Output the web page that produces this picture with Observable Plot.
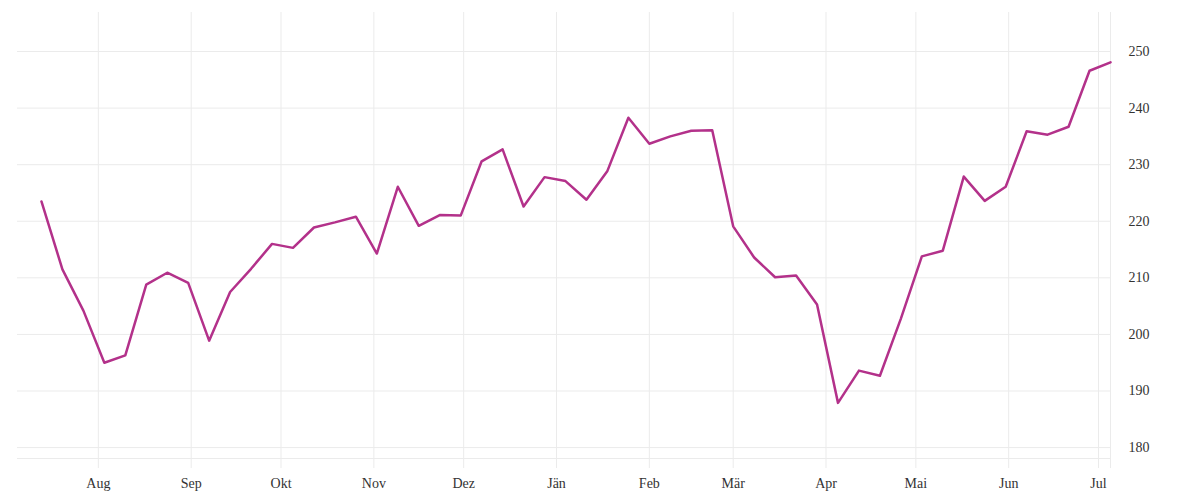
<!DOCTYPE html>
<html>
<head>
<meta charset="utf-8">
<script src="https://cdn.jsdelivr.net/npm/d3@7"></script>
<script src="https://cdn.jsdelivr.net/npm/@observablehq/plot@0.6"></script>
<style>
  html, body { margin: 0; padding: 0; background: #fff; }
</style>
</head>
<body>
<div id="chart"></div>
<script>
const dates = [
  "2022-07-13","2022-07-20","2022-07-27","2022-08-03","2022-08-10","2022-08-17","2022-08-24","2022-08-31",
  "2022-09-07","2022-09-14","2022-09-21","2022-09-28","2022-10-05","2022-10-12","2022-10-19","2022-10-26",
  "2022-11-02","2022-11-09","2022-11-16","2022-11-23","2022-11-30","2022-12-07","2022-12-14","2022-12-21",
  "2022-12-28","2023-01-04","2023-01-11","2023-01-18","2023-01-25","2023-02-01","2023-02-08","2023-02-15",
  "2023-02-22","2023-03-01","2023-03-08","2023-03-15","2023-03-22","2023-03-29","2023-04-05","2023-04-12",
  "2023-04-19","2023-04-26","2023-05-03","2023-05-10","2023-05-17","2023-05-24","2023-05-31","2023-06-07",
  "2023-06-14","2023-06-21","2023-06-28","2023-07-05"
];
const values = [
  223.5, 211.5, 204.2, 195.0, 196.3, 208.8, 210.9, 209.1,
  198.9, 207.5, 211.6, 216.0, 215.3, 218.9, 219.8, 220.8,
  214.3, 226.1, 219.2, 221.1, 221.0, 230.6, 232.7, 222.6,
  227.8, 227.1, 223.8, 228.9, 238.3, 233.7, 235.0, 236.0,
  236.1, 219.1, 213.6, 210.1, 210.4, 205.3, 187.9, 193.6,
  192.7, 202.8, 213.8, 214.8, 227.9, 223.6, 226.1, 235.9,
  235.3, 236.7, 246.6, 248.1
];
const monthTicks = ["2022-08-01","2022-09-01","2022-10-01","2022-11-01","2022-12-01","2023-01-01",
  "2023-02-01","2023-03-01","2023-04-01","2023-05-01","2023-06-01","2023-07-01"];
const monthLabels = ["Aug","Sep","Okt","Nov","Dez","Jän","Feb","Mär","Apr","Mai","Jun","Jul"];
const yTicks = [180, 190, 200, 210, 220, 230, 240, 250];
const xDomain = ["2022-07-05", "2023-07-05"];
const yDomain = [176.3, 256.9];
const bottomRule = [178.06];

const data = dates.map((d, i) => ({date: new Date(d), value: values[i]}));
const tickDates = monthTicks.map(d => new Date(d));
const labelOf = new Map(tickDates.map((d, i) => [+d, monthLabels[i]]));

const grid = "#ebebeb";
const chart = Plot.plot({
  width: 1200,
  height: 500,
  marginLeft: 17,
  marginRight: 90,
  marginTop: 12,
  marginBottom: 32,
  style: {fontFamily: "'Liberation Serif', serif", fontSize: "14px", color: "#333", background: "#fff"},
  x: {type: "utc", domain: xDomain.map(d => new Date(d))},
  y: {domain: yDomain},
  marks: [
    Plot.ruleY(yTicks, {stroke: grid, strokeWidth: 1}),
    Plot.ruleY(bottomRule, {stroke: grid, strokeWidth: 1}),
    Plot.ruleX(tickDates, {stroke: grid, strokeWidth: 1}),
    Plot.ruleX([new Date(xDomain[1])], {stroke: grid, strokeWidth: 1}),
    Plot.line(data, {x: "date", y: "value", stroke: "#b3318a", strokeWidth: 2.5}),
    Plot.axisX(tickDates, {tickSize: 0, tickPadding: 10, tickFormat: d => labelOf.get(+d), label: null}),
    Plot.axisY(yTicks, {anchor: "right", tickSize: 0, tickPadding: 18, label: null})
  ]
});
document.getElementById("chart").appendChild(chart);
</script>
</body>
</html>
